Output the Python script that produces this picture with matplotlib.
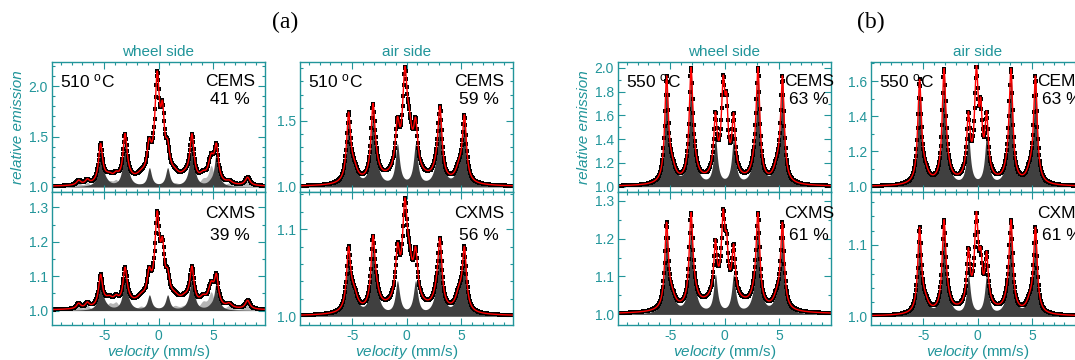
import numpy as np
import matplotlib
matplotlib.use('Agg')
import matplotlib.pyplot as plt
from matplotlib.ticker import MultipleLocator, FormatStrFormatter

plt.rcParams['font.family'] = ['Liberation Sans', 'DejaVu Sans']
plt.rcParams['mathtext.fontset'] = 'custom'
plt.rcParams['mathtext.rm'] = 'Liberation Sans'
plt.rcParams['mathtext.it'] = 'Liberation Sans:italic'
plt.rcParams['axes.unicode_minus'] = False

# --- line positions (mm/s) of the crystalline sextets ---
sext_pos = [-5.33, -3.08, -0.84, 0.84, 3.08, 5.33]
sext2_pos = [-4.85, -2.80, -0.76, 0.76, 2.80, 4.85]

# --- wheel side, 510 C ---
w510c_dark = [0.38, 0.44, 0.17, 0.17, 0.43, 0.33]
w510c_dark2 = [0.03, 0.03, 0.01, 0.01, 0.03, 0.03]
w510c_light_pos = [-7.35, -6.55, -4.5, -3.9, -1.6, 1.5, 2.4, 4.1, 4.85, 6.5, 8.2]
w510c_light_amp = [0.045, 0.045, 0.05, 0.06, 0.03, 0.035, 0.03, 0.06, 0.20, 0.03, 0.08]
w510c_light_wid = [0.22, 0.22, 0.35, 0.3, 0.4, 0.4, 0.4, 0.35, 0.3, 0.3, 0.25]
w510c_cen_pos = [-0.12, 0.37, -0.90, 0.85]
w510c_cen_amp = [0.93, 0.50, 0.09, 0.04]
w510c_cen_wid = [0.25, 0.20, 0.20, 0.20]
w510c_bg = 0.10

w510x_dark = [0.09, 0.10, 0.04, 0.04, 0.10, 0.08]
w510x_dark2 = [0.008, 0.008, 0.003, 0.003, 0.008, 0.008]
w510x_light_amp = [0.015, 0.015, 0.018, 0.02, 0.012, 0.012, 0.012, 0.02, 0.05, 0.012, 0.025]
w510x_cen_amp = [0.23, 0.12, 0.025, 0.012]
w510x_bg = 0.03

# --- air side, 510 C ---
a510c_dark = [0.50, 0.53, 0.28, 0.28, 0.51, 0.48]
a510c_dark2 = [0.10, 0.07, 0.03, 0.03, 0.07, 0.10]
a510c_cen_pos = [-0.15, 0.25, -0.80, 0.85]
a510c_cen_amp = [0.67, 0.25, 0.03, 0.03]
a510c_cen_wid = [0.25, 0.30, 0.20, 0.20]
a510c_bg = 0.085

a510x_dark = [0.068, 0.075, 0.032, 0.032, 0.072, 0.068]
a510x_dark2 = [0.020, 0.014, 0.006, 0.006, 0.014, 0.020]
a510x_cen_amp = [0.10, 0.035, 0.018, 0.015]
a510x_bg = 0.012

# --- wheel side, 550 C ---
w550c_dark = [0.86, 0.89, 0.35, 0.35, 0.89, 0.86]
w550c_dark2 = [0.12, 0.10, 0.04, 0.04, 0.10, 0.12]
w550c_cen_pos = [-0.12, 0.20, -0.84, 0.84]
w550c_cen_amp = [0.72, 0.45, 0.10, 0.10]
w550c_cen_wid = [0.20, 0.15, 0.12, 0.12]
w550c_bg = 0.06

w550x_dark = [0.22, 0.23, 0.09, 0.09, 0.23, 0.22]
w550x_dark2 = [0.03, 0.025, 0.01, 0.01, 0.025, 0.03]
w550x_cen_amp = [0.20, 0.10, 0.04, 0.03]
w550x_bg = 0.04

# --- air side, 550 C ---
a550c_dark = [0.57, 0.61, 0.26, 0.26, 0.61, 0.59]
a550c_dark2 = [0.06, 0.05, 0.02, 0.02, 0.05, 0.06]
a550c_cen_pos = [-0.10, 0.30, -0.84, 0.84]
a550c_cen_amp = [0.57, 0.30, 0.06, 0.06]
a550c_cen_wid = [0.20, 0.15, 0.12, 0.12]
a550c_bg = 0.03

a550x_dark = [0.115, 0.12, 0.05, 0.05, 0.12, 0.115]
a550x_dark2 = [0.015, 0.012, 0.005, 0.005, 0.012, 0.015]
a550x_cen_amp = [0.12, 0.05, 0.02, 0.015]
a550x_bg = 0.01

# line widths (HWHM, mm/s) of the sextets
dark_wid = {'510': 0.22, '550': 0.20}
dark2_wid = 0.40
bg_wid = 2.5

temps = ['510', '510', '550', '550']
sides = ['wheel side', 'air side', 'wheel side', 'air side']
frac_cems = ['41 %', '59 %', '63 %', '63 %']
frac_cxms = ['39 %', '56 %', '61 %', '61 %']

teal = '#21959a'


def lor(v, pos, amp, wid):
    out = np.zeros_like(v)
    wid = np.broadcast_to(wid, np.shape(pos))
    for p, a, w in zip(pos, amp, wid):
        out += a / (1 + ((v - p) / w) ** 2)
    return out


def spectrum(v, temp, dark, dark2, cen_pos, cen_amp, cen_wid, bg, light_amp=None):
    d = lor(v, sext_pos, dark, dark_wid[temp]) + lor(v, sext2_pos, dark2, dark2_wid)
    li = np.zeros_like(v)
    if light_amp is not None:
        li = lor(v, w510c_light_pos, light_amp, w510c_light_wid)
    rest = lor(v, cen_pos, cen_amp, cen_wid) + lor(v, [0.0], [bg], bg_wid)
    return d, li, d + li + rest


panels = [
    [(temps[0], w510c_dark, w510c_dark2, w510c_cen_pos, w510c_cen_amp, w510c_cen_wid, w510c_bg, w510c_light_amp),
     (temps[0], w510x_dark, w510x_dark2, w510c_cen_pos, w510x_cen_amp, w510c_cen_wid, w510x_bg, w510x_light_amp)],
    [(temps[1], a510c_dark, a510c_dark2, a510c_cen_pos, a510c_cen_amp, a510c_cen_wid, a510c_bg, None),
     (temps[1], a510x_dark, a510x_dark2, a510c_cen_pos, a510x_cen_amp, a510c_cen_wid, a510x_bg, None)],
    [(temps[2], w550c_dark, w550c_dark2, w550c_cen_pos, w550c_cen_amp, w550c_cen_wid, w550c_bg, None),
     (temps[2], w550x_dark, w550x_dark2, w550c_cen_pos, w550x_cen_amp, w550c_cen_wid, w550x_bg, None)],
    [(temps[3], a550c_dark, a550c_dark2, a550c_cen_pos, a550c_cen_amp, a550c_cen_wid, a550c_bg, None),
     (temps[3], a550x_dark, a550x_dark2, a550c_cen_pos, a550x_cen_amp, a550c_cen_wid, a550x_bg, None)],
]

# axis limits, y ticks (major, minor)
ylims = [[(0.95, 2.24), (0.958, 1.345)],
         [(0.962, 1.947), (0.99, 1.1425)],
         [(0.955, 2.05), (0.972, 1.323)],
         [(0.97, 1.708), (0.988, 1.174)]]
yticks = [[(0.5, 0.1), (0.1, 0.05)],
          [(0.5, 0.1), (0.1, 0.02)],
          [(0.2, 0.1), (0.1, 0.05)],
          [(0.2, 0.1), (0.1, 0.02)]]

W, H = 1075, 360
lefts = [52, 300, 618, 871]
aw = 213
txt_off = [178, 179, 191, 191]

fig = plt.figure(figsize=(W / 100, H / 100), dpi=100)

v_fine = np.linspace(-9.8, 9.8, 2000)
v_chan = np.linspace(-9.7, 9.7, 400)

for i in range(4):
    for j in range(2):
        if j == 0:
            rect = [lefts[i] / W, 1 - 192 / H, aw / W, 130 / H]
        else:
            rect = [lefts[i] / W, 1 - 325 / H, aw / W, 133 / H]
        ax = fig.add_axes(rect)
        args = panels[i][j]
        d, li, tot = spectrum(v_fine, *args)
        _, _, tot_c = spectrum(v_chan, *args)
        if args[-1] is not None:
            ax.fill_between(v_fine, 1, 1 + li, color='#b5b5b5', lw=0)
        ax.fill_between(v_fine, 1, 1 + d, color='#404040', lw=0)
        ax.plot(v_chan, 1 + tot_c, 's', color='black', ms=3.0, mew=0)
        ax.plot(v_fine, 1 + tot, color='red', lw=1.0)

        ax.set_xlim(-9.8, 9.8)
        ax.set_ylim(*ylims[i][j])
        ax.xaxis.set_major_locator(MultipleLocator(5))
        ax.xaxis.set_minor_locator(MultipleLocator(1))
        ax.yaxis.set_major_locator(MultipleLocator(yticks[i][j][0]))
        ax.yaxis.set_minor_locator(MultipleLocator(yticks[i][j][1]))
        ax.yaxis.set_major_formatter(FormatStrFormatter('%.1f'))
        ax.tick_params(which='both', direction='in', top=True, right=True,
                       color=teal, labelcolor=teal, labelsize=10, pad=3)
        ax.tick_params(which='major', length=5, width=0.8)
        ax.tick_params(which='minor', length=2.5, width=0.8)
        for sp in ax.spines.values():
            sp.set_color(teal)
            sp.set_linewidth(1.0)

        xt = txt_off[i] / aw
        if j == 0:
            ax.tick_params(labelbottom=False)
            ax.set_title(sides[i], color=teal, fontsize=11, pad=4)
            ax.text(8 / aw, 1 - 19 / 130, temps[i] + r' $^{\mathregular{o}}$C', transform=ax.transAxes,
                    fontsize=12.5, va='center', ha='left')
            ax.text(xt, 1 - 19 / 130, 'CEMS', transform=ax.transAxes,
                    fontsize=12.5, va='center', ha='center')
            ax.text(xt, 1 - 37 / 130, frac_cems[i], transform=ax.transAxes,
                    fontsize=12.5, va='center', ha='center')
            if i in (0, 2):
                ax.set_ylabel('relative emission', color=teal, fontsize=11, style='italic')
                ax.yaxis.set_label_coords(-27 / aw, 0.5)
        else:
            ax.text(xt, 1 - 22 / 133, 'CXMS', transform=ax.transAxes,
                    fontsize=12.5, va='center', ha='center')
            ax.text(xt, 1 - 44 / 133, frac_cxms[i], transform=ax.transAxes,
                    fontsize=12.5, va='center', ha='center')
            ax.set_xlabel(r'$\mathit{velocity}$ (mm/s)', color=teal, fontsize=11, labelpad=0)

fig.text(285 / W, 1 - 22 / H, '(a)', fontsize=17, family='Liberation Serif', ha='center', va='center')
fig.text(871 / W, 1 - 22 / H, '(b)', fontsize=17, family='Liberation Serif', ha='center', va='center')

fig.savefig('out.png', dpi=100)
